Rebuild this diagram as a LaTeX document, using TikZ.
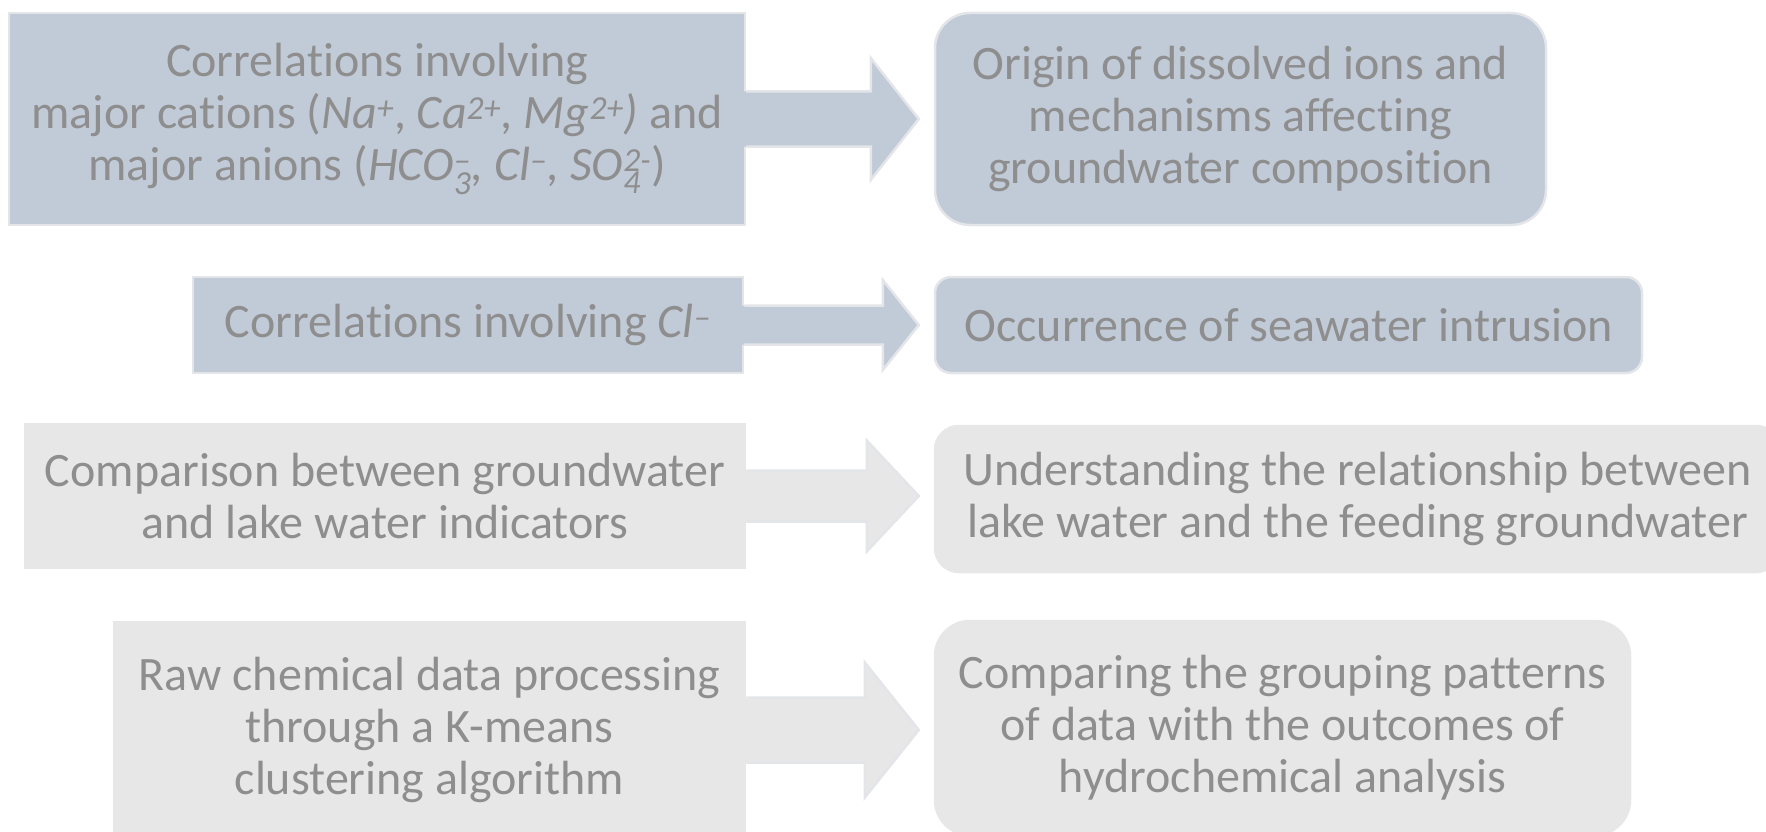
\documentclass[tikz,border=0pt]{standalone}
\usepackage{fontspec}
\setmainfont{Carlito}[Ligatures=NoCommon]
\usetikzlibrary{calc}
\definecolor{bluefill}{HTML}{C1CAD7}
\definecolor{grayfill}{HTML}{E7E7E7}
\definecolor{edgec}{HTML}{E3E5E8}
\definecolor{txtc}{HTML}{8E8E8E}
\newcommand\subsup[2]{\rlap{\textsubscript{#1}}\textsuperscript{#2}}
% #1 left node, #2 tip coordinate, #3 shaft half height, #4 head half height, #5 head length, #6 fill colour
\newcommand\bigarrow[6]{%
  \fill[#6] ($(#1.east)+(-4,-#3)$) -- ($(#2)+(-#5,-#3)$) -- ($(#2)+(-#5,-#4)$) -- (#2)
    -- ($(#2)+(-#5,#4)$) -- ($(#2)+(-#5,#3)$) -- ($(#1.east)+(-4,#3)$) -- cycle;
  \draw[edgec,line width=2.5pt,line join=miter] ($(#1.east)+(0,-#3)$) -- ($(#2)+(-#5,-#3)$) -- ($(#2)+(-#5,-#4)$) -- (#2)
    -- ($(#2)+(-#5,#4)$) -- ($(#2)+(-#5,#3)$) -- ($(#1.east)+(0,#3)$);}
\begin{document}
\begin{tikzpicture}[x=1pt,y=-1pt,
  every node/.style={font=\fontsize{48}{52}\selectfont, text=txtc, align=center, inner sep=0pt},
  lbox/.style={rectangle, draw=edgec, line width=2.5pt},
  rbox/.style={rectangle, rounded corners=#1, draw=edgec, line width=2.5pt},
  bluebox/.style={fill=bluefill},
  graybox/.style={fill=grayfill, draw=grayfill}]
\useasboundingbox (0,0) rectangle (1766,832);
\clip (0,0) rectangle (1766,832);
% row 1
\node[lbox, bluebox, minimum width=736pt, minimum height=212pt] (L1) at (377,119)
  {Correlations involving\\ major cations (\textit{Na\textsuperscript{+}}, \textit{Ca\textsuperscript{2+}, Mg\textsuperscript{2+})} and\\ major anions (\textit{HCO\subsup{3}{–}, Cl\textsuperscript{–}, SO\subsup{4}{2-}})};
\node[rbox=35pt, bluebox, minimum width=611pt, minimum height=212pt] (R1) at (1240.5,119)
  {Origin of dissolved ions and\\ mechanisms affecting\\ groundwater composition};
\coordinate (T1) at ($(R1.west |- L1.east)+(-15,0)$);
\bigarrow{L1}{T1}{27.5}{61}{48}{bluefill}
% row 2
\node[lbox, bluebox, minimum width=550pt, minimum height=96pt] (L2) at (468,325)
  {Correlations involving \textit{Cl\textsuperscript{–}}};
\node[rbox=16pt, bluebox, minimum width=707pt, minimum height=96pt] (R2) at (1288.5,325)
  {Occurrence of seawater intrusion};
\coordinate (T2) at ($(R2.west |- L2.east)+(-15,0)$);
\bigarrow{L2}{T2}{19.5}{45}{36}{bluefill}
% row 3
\node[lbox, graybox, minimum width=720pt, minimum height=144pt] (L3) at (385,496)
  {Comparison between groundwater\\ and lake water indicators};
\node[rbox=24pt, graybox, minimum width=845pt, minimum height=146pt] (R3) at (1357.5,499)
  {Understanding the relationship between\\ lake water and the feeding groundwater};
\coordinate (T3) at ($(R3.west |- L3.east)+(-15,0)$);
\bigarrow{L3}{T3}{25.5}{55.5}{52}{grayfill}
% row 4
\node[lbox, graybox, minimum width=631pt, minimum height=216pt] (L4) at (429.5,730)
  {Raw chemical data processing\\ through a K-means\\ clustering algorithm};
\node[rbox=35pt, graybox, minimum width=695pt, minimum height=214pt] (R4) at (1282.5,728)
  {Comparing the grouping patterns\\ of data with the outcomes of\\ hydrochemical analysis};
\coordinate (T4) at ($(R4.west |- L4.east)+(-15,0)$);
\bigarrow{L4}{T4}{32.5}{67.5}{54}{grayfill}
\end{tikzpicture}
\end{document}
